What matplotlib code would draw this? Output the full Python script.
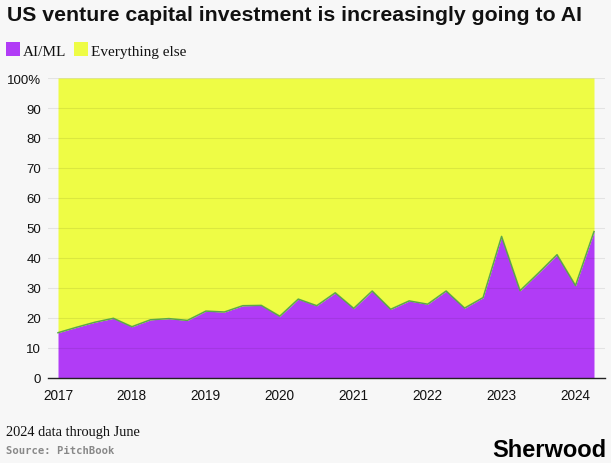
import matplotlib
matplotlib.use("Agg")
import matplotlib.pyplot as plt
import numpy as np
from matplotlib.patches import Rectangle

# Quarterly share of US VC investment going to AI/ML (%), Q1 2017 - Q2 2024
quarters = [2017.00, 2017.25, 2017.50, 2017.75,
            2018.00, 2018.25, 2018.50, 2018.75,
            2019.00, 2019.25, 2019.50, 2019.75,
            2020.00, 2020.25, 2020.50, 2020.75,
            2021.00, 2021.25, 2021.50, 2021.75,
            2022.00, 2022.25, 2022.50, 2022.75,
            2023.00, 2023.25, 2023.50, 2023.75,
            2024.00, 2024.25]
ai_share = [15.1, 16.9, 18.6, 19.9,
            17.1, 19.4, 19.8, 19.2,
            22.3, 22.0, 24.1, 24.2,
            20.6, 26.3, 24.1, 28.4,
            23.2, 29.0, 22.9, 25.7,
            24.6, 29.0, 23.3, 26.8,
            47.2, 29.1, 35.0, 41.1,
            30.8, 48.8]
x_ticks = [2017, 2018, 2019, 2020, 2021, 2022, 2023, 2024]
y_ticks = [0, 10, 20, 30, 40, 50, 60, 70, 80, 90, 100]
y_labels = ["0", "10", "20", "30", "40", "50", "60", "70", "80", "90", "100%"]
series_names = ["AI/ML", "Everything else"]

BG = "#f7f7f7"
PURPLE = "#b13cf6"
YELLOW = "#eefc45"
LINE = "#5aa64a"

W, H = 611, 464
fig = plt.figure(figsize=(W / 100, H / 100), dpi=100, facecolor=BG)
ax = fig.add_axes([48 / W, 1 - 379 / H, (605 - 48) / W, (379 - 79) / H])
ax.set_facecolor(BG)

x = np.array(quarters)
y = np.array(ai_share)
ax.fill_between(x, 0, y, color=PURPLE, lw=0, zorder=2)
ax.fill_between(x, y, 100, color=YELLOW, lw=0, zorder=2)
ax.plot(x, y, color=LINE, lw=1.1, zorder=3)

ax.set_ylim(0, 100)
ax.set_xlim(2017 - 10 / 73.9, 2024.25 + 11 / 73.9)
ax.set_yticks(y_ticks)
ax.set_yticklabels(y_labels)
ax.set_xticks(x_ticks)
ax.set_xticklabels([str(t) for t in x_ticks])
ax.set_axisbelow(False)
ax.grid(axis="y", color="black", alpha=0.08, lw=0.8, zorder=2.5)
ax.grid(axis="x", visible=False)
for s in ["top", "right", "left"]:
    ax.spines[s].set_visible(False)
ax.spines["bottom"].set_color("#222222")
ax.spines["bottom"].set_linewidth(1.0)
ax.spines["bottom"].set_zorder(4)
ax.tick_params(axis="y", length=0, pad=5, labelsize=9.5, labelcolor="#111111")
ax.tick_params(axis="x", length=0, pad=7, labelsize=9.8, labelcolor="#111111")
for lab in ax.get_xticklabels() + ax.get_yticklabels():
    lab.set_fontfamily("Liberation Sans")

def fy(py):
    return 1 - py / H

# Title
fig.text(7 / W, fy(21), "US venture capital investment is increasingly going to AI",
         fontsize=15.3, fontweight="bold", family="Liberation Sans", color="#111111",
         va="baseline", ha="left")

# Legend
fig.patches.append(Rectangle((6 / W, fy(57)), 14 / W, 14 / H, transform=fig.transFigure,
                             color=PURPLE, lw=0))
fig.text(23 / W, fy(56), series_names[0], fontsize=11, family="Liberation Serif",
         va="baseline", ha="left", color="#111111")
fig.patches.append(Rectangle((73.5 / W, fy(57)), 14 / W, 14 / H, transform=fig.transFigure,
                             color=YELLOW, lw=0))
fig.text(91 / W, fy(56), series_names[1], fontsize=11, family="Liberation Serif",
         va="baseline", ha="left", color="#111111")

# Footer
fig.text(6 / W, fy(435.7), "2024 data through June", fontsize=10.4, family="Liberation Serif",
         va="baseline", ha="left", color="#111111")
fig.text(6 / W, fy(454.3), "Source: PitchBook", fontsize=7.6, family="DejaVu Sans Mono",
         va="baseline", ha="left", color="#888888", fontweight="bold")
fig.text(606 / W, fy(457), "Sherwood", fontsize=17, family="Liberation Sans",
         fontweight="bold", va="baseline", ha="right", color="#000000")

fig.savefig("out.png", dpi=100, facecolor=BG)
